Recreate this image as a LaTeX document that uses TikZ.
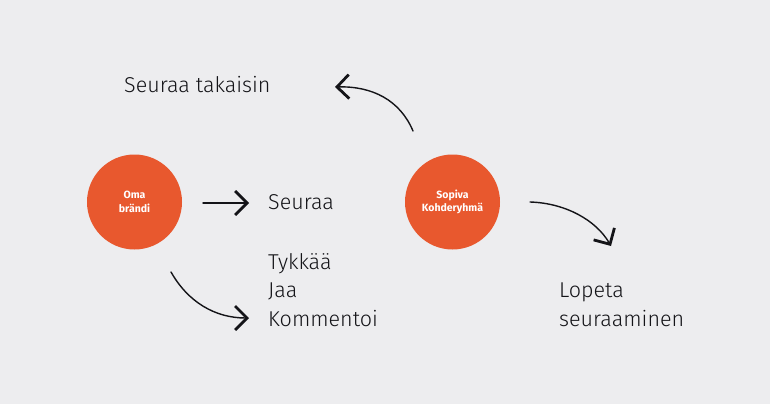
\documentclass[tikz,border=0pt]{standalone}
\usepackage{fontspec}
\setmainfont{Fira Sans}
\newfontfamily\lightfont{Fira Sans Light}
\usetikzlibrary{arrows.meta}
\definecolor{bg}{HTML}{EDEDEF}
\definecolor{orangec}{HTML}{E8582E}
\definecolor{ink}{HTML}{141418}
\tikzset{
  hub/.style={circle, fill=orangec, minimum size=95pt, inner sep=0pt, text=white,
    align=center, font=\fontsize{10.5}{13.5}\selectfont\bfseries},
  label/.style={anchor=west, inner sep=0pt, text=ink, align=left,
    font=\lightfont\fontsize{21.5}{28.5}\selectfont},
  conn/.style={draw=ink, line width=1.4pt, line cap=round,
    -{Straight Barb[length=12pt,width=24pt,line width=2.8pt]}}
}
\begin{document}
\begin{tikzpicture}[x=1pt,y=-1pt]
\fill[bg] (0,0) rectangle (770,404);
\useasboundingbox (0,0) rectangle (770,404);
\node[hub] (oma) at (134.5,202) {Oma\\brändi};
\node[hub] (sopiva) at (452.5,202) {Sopiva\\Kohderyhmä};
\node[label] (takaisin) at (124,85) {Seuraa takaisin};
\node[label] (seuraa) at (268,202) {Seuraa};
\node[label] (tykkaa) at (268,290) {Tykkää\\Jaa\\Kommentoi};
\node[label] (lopeta) at (559,305) {Lopeta\\seuraaminen};
\coordinate (a1s) at (203,203);
\coordinate (a1e) at (249,203);
\coordinate (a2s) at (171,272);
\coordinate (a2e) at (249,318);
\coordinate (a3s) at (413,131);
\coordinate (a3e) at (335,87);
\coordinate (a4s) at (530,202);
\coordinate (a4e) at (611,246);
\draw[conn] (a1s) -- (a1e);
\draw[conn] (a2s) .. controls (188,302) and (215,318) .. (a2e);
\draw[conn] (a3s) .. controls (400,100) and (372,86) .. (a3e);
\draw[conn] (a4s) .. controls (565,203) and (596,220) .. (a4e);
\end{tikzpicture}
\end{document}
